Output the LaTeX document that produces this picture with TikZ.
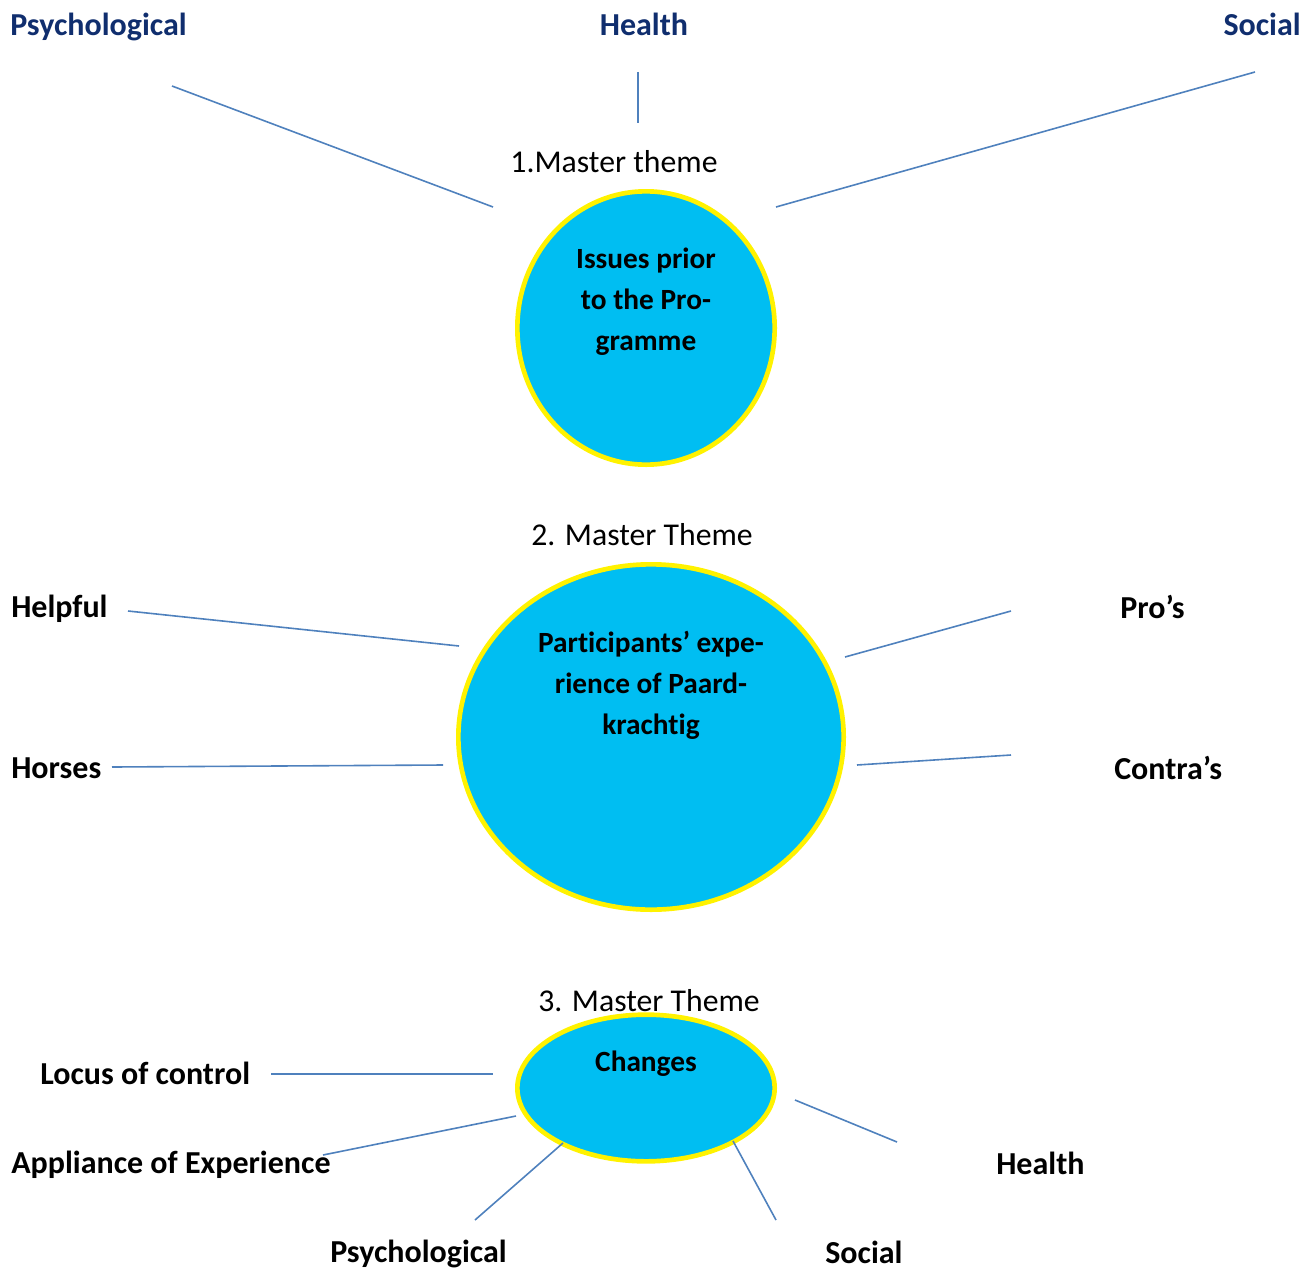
\documentclass[tikz,border=0pt]{standalone}
\usepackage{fontspec}
\setmainfont{Carlito}[Ligatures=NoCommon]
\usetikzlibrary{shapes.geometric}

\definecolor{themefill}{RGB}{0,190,242}
\definecolor{spoke}{RGB}{79,129,189}
\definecolor{navy}{RGB}{16,46,110}

\begin{document}
\begin{tikzpicture}[x=0.75pt, y=-0.75pt,
    theme/.style={ellipse, draw=yellow, line width=3.5pt, fill=themefill, inner sep=0pt},
    inside/.style={align=center, inner sep=0pt, font=\fontsize{22}{30.75}\selectfont\bfseries},
    title/.style={inner sep=0pt, font=\fontsize{23.8}{28}\selectfont},
    tag/.style={inner sep=0pt, font=\fontsize{24}{28}\selectfont\bfseries},
    spokeline/.style={spoke, line width=1.2pt}]

    \useasboundingbox (0,0) rectangle (1312,1270);

    % --- 1. Master theme ---
    \node[title] (t1) at (614,162) {1.Master theme};
    \node[theme, minimum width=193pt, minimum height=205pt] (m1) at (646,328) {};
    \node[inside] (m1txt) at (646,302) {Issues prior\\to the Pro-\\gramme};

    \node[tag, navy, anchor=west] (psy1) at (10,27) {Psychological};
    \node[tag, navy] (hea1) at (644,24) {Health};
    \node[tag, navy, anchor=east] (soc1) at (1301,24) {Social};

    \coordinate (psy1a) at (172,86);   \coordinate (psy1b) at (493,207);
    \coordinate (hea1a) at (638,72);   \coordinate (hea1b) at (638,123);
    \coordinate (soc1a) at (1255,72);  \coordinate (soc1b) at (776,207);
    \draw[spokeline] (psy1a) -- (psy1b);
    \draw[spokeline] (hea1a) -- (hea1b);
    \draw[spokeline] (soc1a) -- (soc1b);

    % --- 2. Master Theme ---
    \node[title] (t2) at (642,535) {2. Master Theme};
    \node[theme, minimum width=289pt, minimum height=259pt] (m2) at (651,737) {};
    \node[inside] (m2txt) at (651,685) {Participants’ expe-\\rience of Paard-\\krachtig};

    \node[tag, anchor=west] (help) at (11,609) {Helpful};
    \node[tag, anchor=west] (hors) at (11,768) {Horses};
    \node[tag, anchor=west] (pros) at (1120,607) {Pro’s};
    \node[tag, anchor=west] (cons) at (1114,768) {Contra’s};

    \coordinate (helpa) at (128,611);  \coordinate (helpb) at (459,646);
    \coordinate (horsa) at (112,767);  \coordinate (horsb) at (443,765);
    \coordinate (prosa) at (1011,611); \coordinate (prosb) at (845,657);
    \coordinate (consa) at (1011,755); \coordinate (consb) at (857,765);
    \draw[spokeline] (helpa) -- (helpb);
    \draw[spokeline] (horsa) -- (horsb);
    \draw[spokeline] (prosa) -- (prosb);
    \draw[spokeline] (consa) -- (consb);

    % --- 3. Master Theme ---
    \node[title] (t3) at (649,1001) {3. Master Theme};
    \node[theme, minimum width=193pt, minimum height=110pt] (m3) at (646,1088) {};
    \node[inside] (m3txt) at (646,1064) {Changes};

    \node[tag, anchor=west] (loc) at (40,1073) {Locus of control};
    \node[tag, anchor=west] (app) at (11,1165) {Appliance of Experience};
    \node[tag, anchor=west] (psy3) at (330,1254) {Psychological};
    \node[tag, anchor=west] (soc3) at (825,1252) {Social};
    \node[tag, anchor=west] (hea3) at (996,1163) {Health};

    \coordinate (loca) at (271,1074);  \coordinate (locb) at (493,1074);
    \coordinate (appa) at (323,1155);  \coordinate (appb) at (516,1116);
    \coordinate (psy3a) at (475,1220); \coordinate (psy3b) at (563,1143);
    \coordinate (soc3a) at (776,1220); \coordinate (soc3b) at (733,1141);
    \coordinate (hea3a) at (897,1142); \coordinate (hea3b) at (795,1100);
    \draw[spokeline] (loca) -- (locb);
    \draw[spokeline] (appa) -- (appb);
    \draw[spokeline] (psy3a) -- (psy3b);
    \draw[spokeline] (soc3a) -- (soc3b);
    \draw[spokeline] (hea3a) -- (hea3b);

\end{tikzpicture}
\end{document}
